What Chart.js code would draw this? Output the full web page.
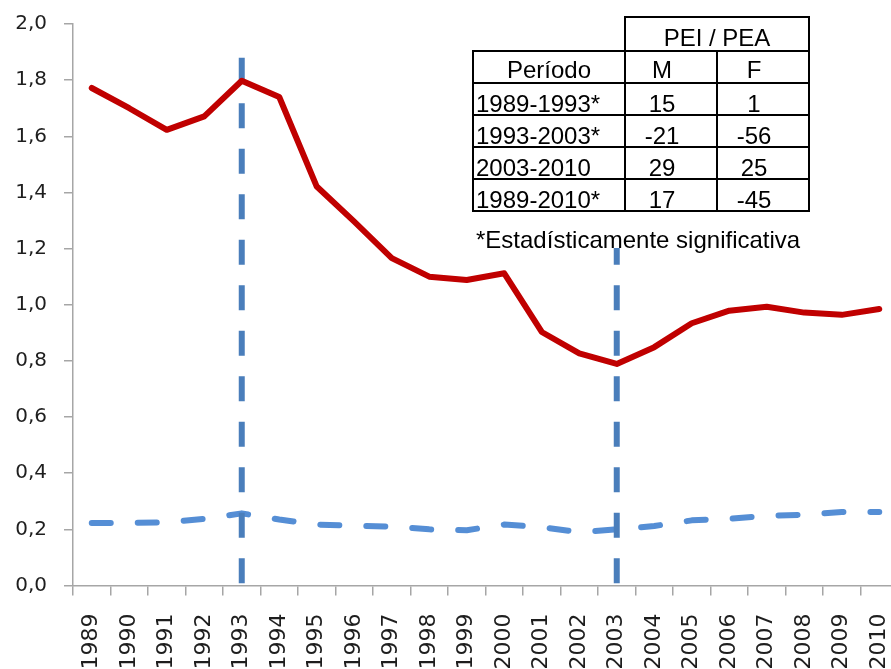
<!DOCTYPE html>
<html>
<head>
<meta charset="utf-8">
<script src="https://cdn.jsdelivr.net/npm/chart.js@4"></script>
<style>
  html, body { margin: 0; padding: 0; overflow: hidden; background: #fff; width: 891px; height: 669px; }
  #wrap { position: relative; width: 900px; height: 669px; }
  canvas { position: absolute; left: 0; top: 0; }
  #tabla { position: absolute; left: 472px; top: 16px; border-collapse: collapse; table-layout: fixed; background: #fff;
           font-family: "Liberation Sans", Arial, sans-serif; font-size: 24px; color: #000; }
  #tabla td { border: 2px solid #000; padding: 0; line-height: 17px; vertical-align: bottom; white-space: nowrap; }
  #tabla td.vacio { border-top: none; border-left: none; background: transparent; }
  #tabla td.per { text-align: left; padding-left: 2px; padding-bottom: 2px; }
  #tabla td.num { text-align: center; padding-right: 18px; padding-bottom: 2px; }
  #tabla td.hdr { text-align: center; padding-bottom: 4px; }
  #tabla td.hdrnum { text-align: center; padding-bottom: 4px; padding-right: 18px; }
  #nota { position: absolute; left: 474px; top: 210px; height: 20px; padding-top: 17.5px; padding-left: 2px; padding-right: 4px;
          background: #fff; font-family: "Liberation Sans", Arial, sans-serif; font-size: 24px; line-height: 24px;
          color: #000; white-space: nowrap; }
</style>
</head>
<body>
<div id="wrap">
  <canvas id="c" width="900" height="669"></canvas>
  <div id="nota"></div>
  <table id="tabla"></table>
</div>
<script>
// ---- Data ----
const years = ['1989','1990','1991','1992','1993','1994','1995','1996','1997','1998','1999',
               '2000','2001','2002','2003','2004','2005','2006','2007','2008','2009','2010'];
const serieM = [1.772, 1.700, 1.623, 1.671, 1.798, 1.740, 1.421, 1.296, 1.166, 1.100, 1.088,
                1.112, 0.903, 0.827, 0.789, 0.849, 0.934, 0.979, 0.993, 0.972, 0.964, 0.985];
const serieF = [0.223, 0.223, 0.225, 0.237, 0.257, 0.235, 0.217, 0.213, 0.210, 0.200, 0.197,
                0.217, 0.208, 0.190, 0.200, 0.212, 0.232, 0.238, 0.248, 0.252, 0.262, 0.262];
const markerYears = ['1993', '2003'];
const markerTop = 1.88;
const yTicks = [0, 0.2, 0.4, 0.6, 0.8, 1.0, 1.2, 1.4, 1.6, 1.8, 2.0];

const tablaHeader = 'PEI / PEA';
const tablaCols = ['Período', 'M', 'F'];
const tablaPeriodos = ['1989-1993*', '1993-2003*', '2003-2010', '1989-2010*'];
const tablaM = [15, -21, 29, 17];
const tablaF = [1, -56, 25, -45];
const nota = '*Estadísticamente significativa';

// ---- Table (HTML text) ----
(function buildTable() {
  const t = document.getElementById('tabla');
  let html = '<colgroup><col style="width:152px"><col style="width:92px"><col style="width:92px"></colgroup>';
  html += '<tr style="height:34px"><td class="vacio"></td><td class="hdr" colspan="2">' + tablaHeader + '</td></tr>';
  html += '<tr style="height:32px"><td class="hdr">' + tablaCols[0] + '</td><td class="hdrnum">' + tablaCols[1] +
          '</td><td class="hdrnum">' + tablaCols[2] + '</td></tr>';
  for (let i = 0; i < tablaPeriodos.length; i++) {
    html += '<tr style="height:32px"><td class="per">' + tablaPeriodos[i] + '</td><td class="num">' + tablaM[i] +
            '</td><td class="num">' + tablaF[i] + '</td></tr>';
  }
  t.innerHTML = html;
  document.getElementById('nota').textContent = nota;
})();

// ---- Chart ----
const axisColor = '#a6a6a6';
const markerDatasets = markerYears.map(y => ({
  label: 'marca ' + y,
  data: [{x: y, y: markerTop}, {x: y, y: 0}],
  borderColor: '#4a7ebb',
  borderWidth: 6,
  borderDash: [25, 20.5],
  borderCapStyle: 'butt',
  pointRadius: 0,
  fill: false,
  tension: 0
}));

new Chart(document.getElementById('c'), {
  type: 'line',
  data: {
    labels: years,
    datasets: [
      {
        label: 'M',
        data: serieM,
        borderColor: '#c00000',
        borderWidth: 6,
        borderJoinStyle: 'round',
        borderCapStyle: 'round',
        pointRadius: 0,
        fill: false,
        tension: 0
      },
      ...markerDatasets,
      {
        label: 'F',
        data: serieF,
        borderColor: '#558ed5',
        borderWidth: 6,
        borderDash: [19, 27],
        borderJoinStyle: 'round',
        borderCapStyle: 'round',
        pointRadius: 0,
        fill: false,
        tension: 0
      }
    ]
  },
  options: {
    responsive: false,
    animation: false,
    devicePixelRatio: 1,
    layout: { padding: { top: 24, right: 2, left: 0, bottom: 0 } },
    plugins: { legend: { display: false }, tooltip: { enabled: false } },
    scales: {
      x: {
        type: 'category',
        offset: true,
        grid: { offset: true, drawOnChartArea: false, drawTicks: true, tickLength: 10, color: axisColor, lineWidth: 1.5 },
        border: { color: axisColor, width: 1.5 },
        ticks: {
          autoSkip: false, minRotation: 90, maxRotation: 90, padding: 18,
          color: '#1e1e1e', font: { family: 'DejaVu Sans', size: 22 }
        },
        afterFit: (s) => { s.height = 83.5; s.paddingLeft = 0; s.paddingRight = 0; }
      },
      y: {
        min: 0, max: 2,
        afterBuildTicks: (s) => { s.ticks = yTicks.map(v => ({ value: v })); },
        grid: { drawOnChartArea: false, drawTicks: true, tickLength: 9, color: axisColor, lineWidth: 1.5 },
        border: { color: axisColor, width: 1.5 },
        ticks: {
          padding: 17, color: '#1e1e1e', font: { family: 'DejaVu Sans', size: 20 },
          callback: (v) => Number(v).toFixed(1).replace('.', ',')
        },
        afterFit: (s) => { s.width = 73; s.paddingTop = 0; s.paddingBottom = 0; }
      }
    }
  }
});
</script>
</body>
</html>
